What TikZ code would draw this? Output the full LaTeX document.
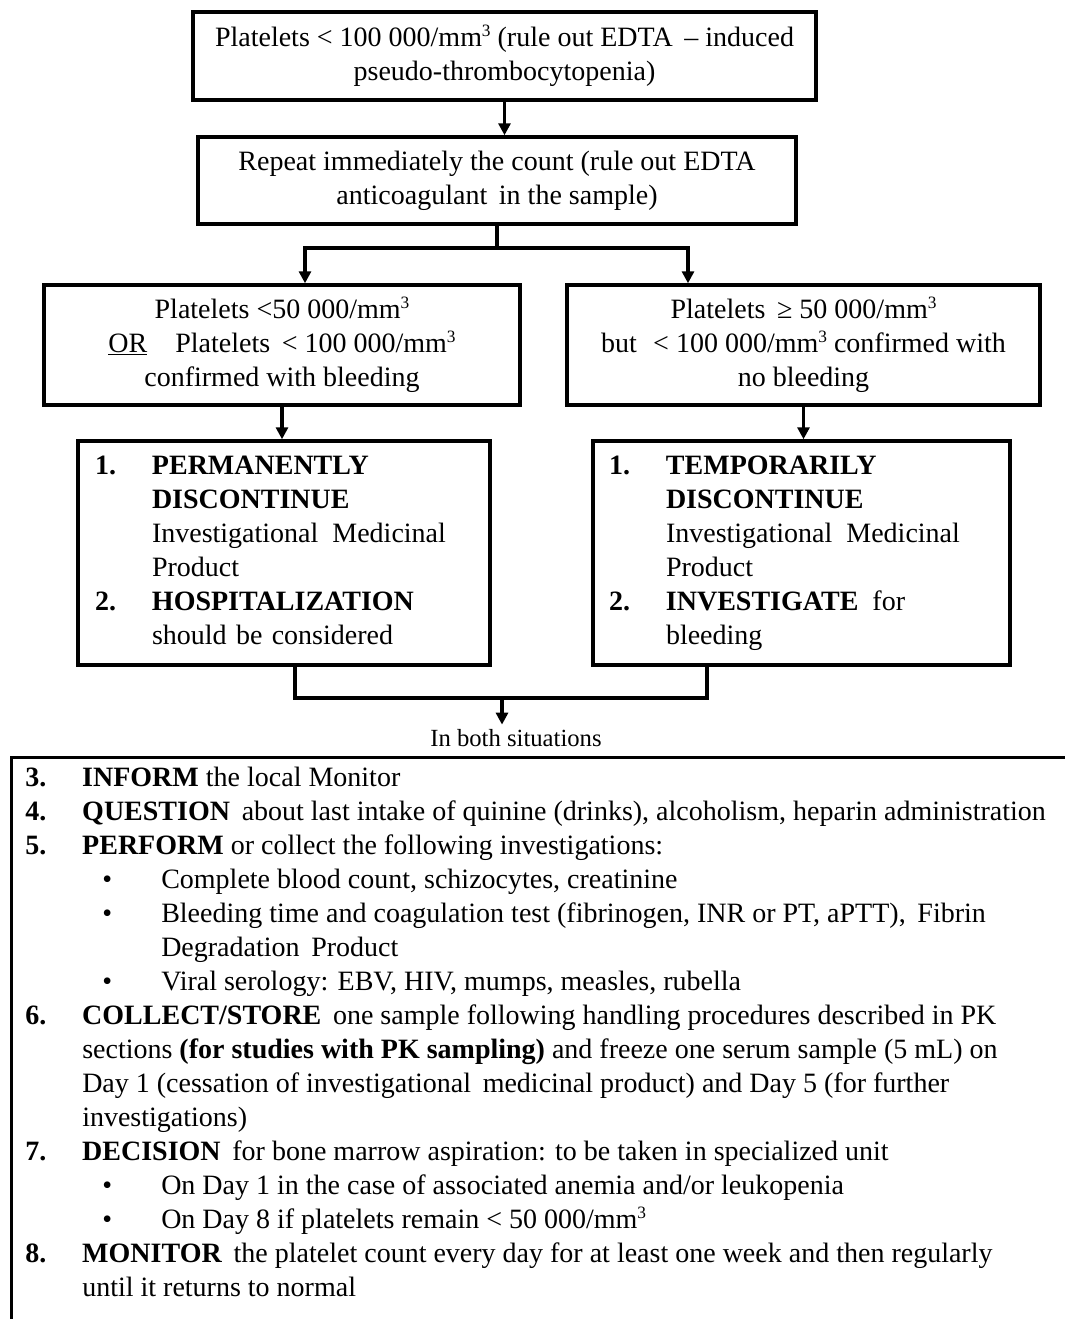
\documentclass[tikz,border=0pt]{standalone}
\usepackage{fontspec}
\setmainfont{Liberation Serif}
\usetikzlibrary{arrows.meta,calc}
\newlength\px \setlength\px{0.75pt}
\newcommand\nm[1]{\makebox[57\px][l]{#1}}
\newcommand\ind{\hspace*{57\px}}
\newcommand\bul{\hspace*{77\px}\makebox[59\px][l]{•}}
\newcommand\bind{\hspace*{136\px}}
\newcommand\mmc{/mm\raisebox{0.75ex}{\fontsize{13}{13}\selectfont 3}}
\tikzset{
  boxnode/.style={draw, line width=2.6pt, inner sep=0pt, align=center},
  listnode/.style={draw, line width=2.6pt, inner ysep=0pt, align=left},
  conn/.style={line width=2.6pt},
  arr/.style={line width=2.6pt, -{Triangle[length=9pt,width=9pt]}},
}
\begin{document}
\begin{tikzpicture}[x=0.75pt,y=-0.75pt, font=\fontsize{21}{25.5}\selectfont]
\useasboundingbox[fill=white] (0,0) rectangle (1064,1319);

\node[boxnode, minimum width=623\px, minimum height=88\px] (b1) at (504.5,56)
  {Platelets < 100 000\mmc{} (rule out EDTA \,– induced\\pseudo-thrombocytopenia)};
\node[boxnode, minimum width=598\px, minimum height=87\px] (b2) at (497,180.5)
  {Repeat immediately the count (rule out EDTA\\anticoagulant\, in the sample)};
\node[boxnode, minimum width=476\px, minimum height=120\px] (b3) at (282,345)
  {Platelets <50 000\mmc\\\underline{OR}\quad Platelets\, < 100 000\mmc\\confirmed with bleeding};
\node[boxnode, minimum width=473\px, minimum height=120\px] (b4) at (803.5,345)
  {Platelets \,≥ 50 000\mmc\\but\,\, < 100 000\mmc{} confirmed with\\no bleeding};

\node[listnode, inner xsep=17\px, text width=378\px, minimum height=224\px] (b5) at (284,553)
  {\strut\nm{\textbf{1.}}\textbf{PERMANENTLY}\\
   \ind\textbf{DISCONTINUE}\\
   \ind Investigational\, Medicinal\\
   \ind Product\\
   \nm{\textbf{2.}}\textbf{HOSPITALIZATION}\\
   \ind should be considered\strut};
\node[listnode, inner xsep=16\px, text width=385\px, minimum height=224\px] (b6) at (801.5,553)
  {\strut\nm{\textbf{1.}}\textbf{TEMPORARILY}\\
   \ind\textbf{DISCONTINUE}\\
   \ind Investigational\, Medicinal\\
   \ind Product\\
   \nm{\textbf{2.}}\textbf{INVESTIGATE}\, for\\
   \ind bleeding\strut};

\node[font=\fontsize{18.5}{22}\selectfont] (lbl) at (516,738) {In both situations};

\node[draw, line width=2.6pt, anchor=north west, minimum width=1150\px, minimum height=700\px, inner sep=0pt] (lb) at (10,756) {};
\node[anchor=north west, inner sep=0pt, align=left] (lt) at (25,762.2)
  {\strut\nm{\textbf{3.}}\textbf{INFORM} the local Monitor\\
   \nm{\textbf{4.}}\textbf{QUESTION}\, about last intake of quinine (drinks), alcoholism, heparin administration\\
   \nm{\textbf{5.}}\textbf{PERFORM} or collect the following investigations:\\
   \bul Complete blood count, schizocytes, creatinine\\
   \bul Bleeding time and coagulation test (fibrinogen, INR or PT, aPTT),\, Fibrin\\
   \bind Degradation\, Product\\
   \bul Viral serology: EBV, HIV, mumps, measles, rubella\\
   \nm{\textbf{6.}}\textbf{COLLECT/STORE}\, one sample following handling procedures described in PK\\
   \ind sections \textbf{(for studies with PK sampling)} and freeze one serum sample (5 mL) on\\
   \ind Day 1 (cessation of investigational\, medicinal product) and Day 5 (for further\\
   \ind investigations)\\
   \nm{\textbf{7.}}\textbf{DECISION}\, for bone marrow aspiration: to be taken in specialized unit\\
   \bul On Day 1 in the case of associated anemia and/or leukopenia\\
   \bul On Day 8 if platelets remain < 50 000\mmc\\
   \nm{\textbf{8.}}\textbf{MONITOR}\, the platelet count every day for at least one week and then regularly\\
   \ind until it returns to normal};

% connectors
\coordinate (j1) at (497,248);
\coordinate (j1l) at (305,248);
\coordinate (j1r) at (688,248);
\coordinate (j2l) at (295,698);
\coordinate (j2r) at (707,698);
\coordinate (j2c) at (502,698);

\draw[arr] (b1.south) -- (b1.south |- b2.north);
\draw[conn] (b2.south) -- (j1);
\draw[arr] (j1) -| (b3.north -| j1l);
\draw[arr] (j1) -| (b4.north -| j1r);
\draw[arr] (b3.south) -- (b3.south |- b5.north);
\draw[arr] (b4.south) -- (b4.south |- b6.north);
\draw[conn] (b5.south -| j2l) -- (j2l) -- (j2r) -- (b6.south -| j2r);
\draw[arr] (j2c) -- (j2c |- lbl.north);
\end{tikzpicture}
\end{document}
